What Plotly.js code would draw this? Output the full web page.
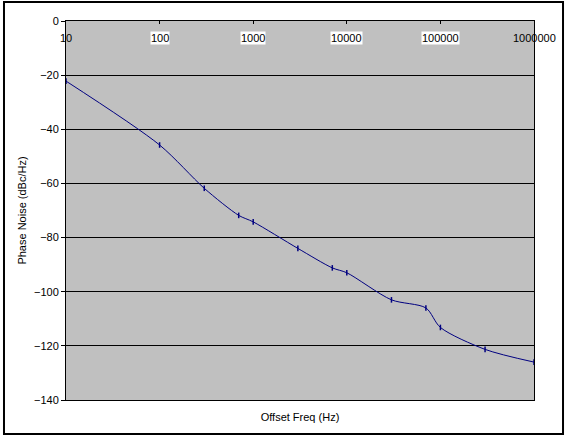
<!DOCTYPE html>
<html>
<head>
<meta charset="utf-8">
<script src="https://cdn.plot.ly/plotly-3.0.1.min.js"></script>
<style>html,body{margin:0;padding:0;background:#fff;}#chart{width:568px;height:437px;}</style>
</head>
<body>
<div id="chart"></div>
<script>
// Data
const offsetFreq = [10, 100, 300, 700, 1000, 3000, 7000, 10000, 30000, 70000, 100000, 300000, 1000000];
const phaseNoise = [-22.2, -45.8, -61.8, -71.8, -74.2, -84.0, -91.2, -93.0, -103.0, -106.0, -113.2, -121.3, -126.0];
const xTickValues = [10, 100, 1000, 10000, 100000, 1000000];
const xTickLabels = ['10', '100', '1000', '10000', '100000', '1000000'];
const yTickValues = [0, -20, -40, -60, -80, -100, -120, -140];

const FONT = 'Liberation Sans, Arial, sans-serif';

const trace = {
  x: offsetFreq,
  y: phaseNoise,
  type: 'scatter',
  mode: 'lines+markers',
  line: {color: '#000080', width: 1, shape: 'spline', smoothing: 0.8},
  marker: {symbol: 'line-ns', size: 4, color: '#000080', line: {color: '#000080', width: 1.5}},
  hoverinfo: 'x+y',
  showlegend: false
};

const annotations = xTickValues.map((v, i) => ({
  x: Math.log10(v), xref: 'x',
  y: 0.955, yref: 'paper',
  text: xTickLabels[i],
  showarrow: false,
  xanchor: 'center', yanchor: 'middle',
  font: {family: FONT, size: 11, color: '#000000'},
  bgcolor: (i === 0 || i === xTickValues.length - 1) ? 'rgba(0,0,0,0)' : '#ffffff',
  borderpad: 0
}));

const layout = {
  width: 568, height: 437,
  margin: {l: 66, r: 34, t: 21, b: 37},
  paper_bgcolor: '#ffffff',
  plot_bgcolor: '#c0c0c0',
  font: {family: FONT, size: 11, color: '#000'},
  xaxis: {
    type: 'log',
    range: [1, 6],
    tickvals: xTickValues,
    showticklabels: false,
    ticks: '',
    showgrid: false,
    zeroline: false,
    showline: true, linecolor: '#000', linewidth: 1, mirror: true,
    title: {text: 'Offset Freq (Hz)', font: {family: FONT, size: 11, color: '#000'}, standoff: 13}
  },
  xaxis2: {
    type: 'log',
    range: [1, 6],
    overlaying: 'x',
    matches: 'x',
    side: 'top',
    anchor: 'y',
    tickvals: xTickValues,
    showticklabels: false,
    ticks: 'inside', ticklen: 3, tickcolor: '#000',
    showgrid: false, zeroline: false, showline: false
  },
  yaxis: {
    range: [-140, 0],
    tickvals: yTickValues,
    ticks: 'outside', ticklen: 4, tickcolor: '#000',
    showgrid: true, gridcolor: '#000', gridwidth: 1,
    zeroline: false,
    showline: true, linecolor: '#000', linewidth: 1, mirror: true,
    tickfont: {family: FONT, size: 11, color: '#000'},
    title: {text: 'Phase Noise (dBc/Hz)', font: {family: FONT, size: 11, color: '#000'}, standoff: 5}
  },
  annotations: annotations,
  shapes: [{
    type: 'rect', xref: 'paper', yref: 'paper',
    x0: -0.1325, x1: 1.062, y0: -0.0897, y1: 1.05,
    line: {color: '#000', width: 2}, fillcolor: 'rgba(0,0,0,0)', layer: 'above'
  }]
};

Plotly.newPlot('chart', [trace, {x: [], y: [], xaxis: 'x2', yaxis: 'y', showlegend: false}], layout, {staticPlot: true, displayModeBar: false});
</script>
</body>
</html>
